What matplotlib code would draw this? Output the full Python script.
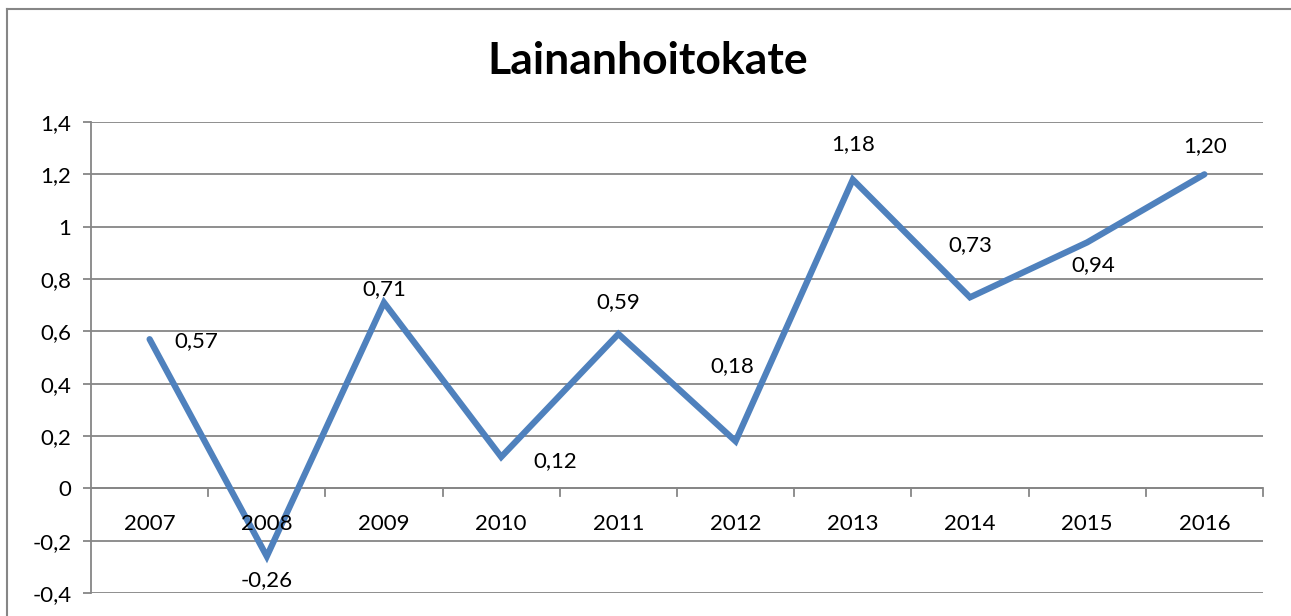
# Lainanhoitokate line chart, excel look

import numpy as np
import matplotlib.pyplot as plt
from matplotlib.lines import Line2D
from matplotlib.ticker import FuncFormatter

years = ["2007", "2008", "2009", "2010", "2011", "2012", "2013", "2014", "2015", "2016"]
values = [0.57, -0.26, 0.71, 0.12, 0.59, 0.18, 1.18, 0.73, 0.94, 1.20]
labels = ["0,57", "-0,26", "0,71", "0,12", "0,59", "0,18", "1,18", "0,73", "0,94", "1,20"]
# label offsets in pixels from the point
offsets = [(47, -2), (0, -24), (0, 13), (54, -4), (0, 32), (-3, 75), (0, 35), (0, 52), (6, -23), (1, 28)]

plt.rcParams['font.family'] = ['Lato', 'DejaVu Sans']
FS = 16

W, H = 1291, 616
fig = plt.figure(figsize=(W/100, H/100), dpi=100)
# outer chart frame, only left and top edges are inside the picture
fig.lines.append(Line2D([7/W, 7/W], [0, 1 - 9/H], transform=fig.transFigure, color='#868686', lw=1.5))
fig.lines.append(Line2D([7/W, 1], [1 - 9/H, 1 - 9/H], transform=fig.transFigure, color='#868686', lw=1.5))

ax = fig.add_axes([91/W, 1 - 593/H, (1263-91)/W, (593-122)/H])
x = np.arange(len(years))
ax.plot(x, values, color='#4F81BD', lw=4.5, solid_capstyle='round', solid_joinstyle='miter', zorder=3)

for xi, v, lab, (dx, dy) in zip(x, values, labels, offsets):
    ax.annotate(lab, (xi, v), xytext=(dx, dy), textcoords='offset pixels',
                ha='center', va='center', fontsize=FS, color='black', zorder=4)

ax.set_xlim(-0.5, len(years) - 0.5)
ax.set_ylim(-0.4, 1.4)
ax.set_yticks(np.arange(-0.4, 1.41, 0.2))
ax.yaxis.set_major_formatter(FuncFormatter(lambda v, p: ("%g" % round(v, 1)).replace('.', ',')))
ax.yaxis.grid(True, color='#868686', lw=1.3)
ax.set_axisbelow(True)

for s in ['top', 'right', 'bottom']:
    ax.spines[s].set_visible(False)
ax.spines['left'].set_color('#868686')
ax.spines['left'].set_linewidth(1.3)
ax.tick_params(axis='y', length=6, color='#868686', width=1.3, labelsize=FS, pad=8)

# category axis sits on zero
ax.axhline(0, color='#868686', lw=1.3, zorder=2)
ax.set_xticks([])
for b in np.arange(-0.5, len(years), 1.0)[1:]:
    ax.plot([b, b], [0, -0.03], color='#868686', lw=1.3, clip_on=False, zorder=2)
for xi, yr in zip(x, years):
    ax.text(xi, -0.135, yr, ha='center', va='center', fontsize=FS, color='black', zorder=4)

fig.text(648/W, 1 - 61/H, "Lainanhoitokate", ha='center', va='center',
         fontsize=32, fontweight='bold')

fig.savefig("out.png", dpi=100)
